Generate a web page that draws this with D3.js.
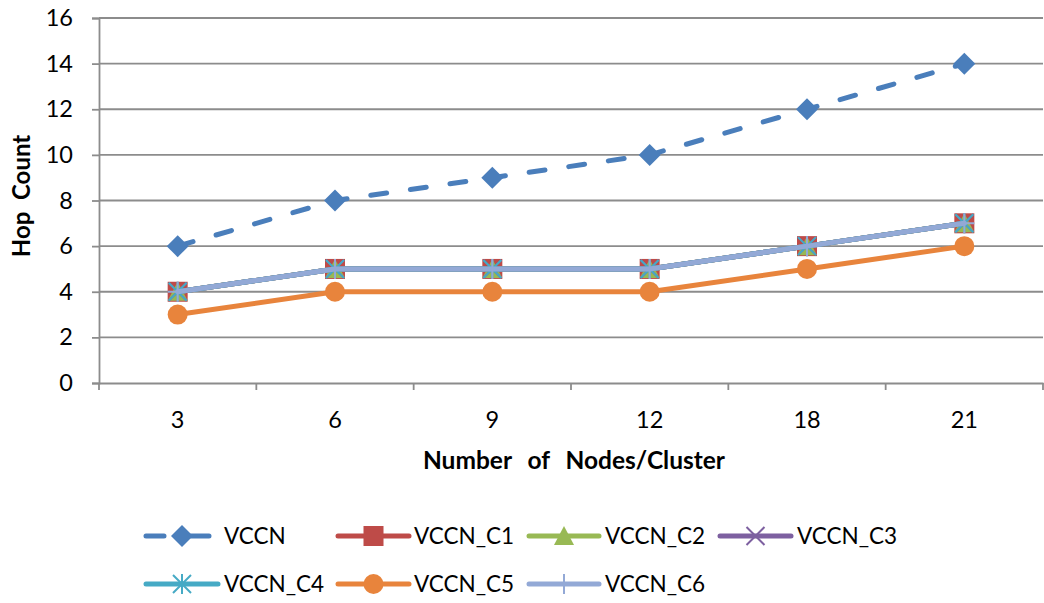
<!DOCTYPE html>
<html>
<head>
<meta charset="utf-8">
<script src="https://cdn.jsdelivr.net/npm/d3@7"></script>
<style>
  html, body { margin: 0; padding: 0; background: #fff; }
  svg { display: block; font-family: Lato, "Open Sans", "Liberation Sans", sans-serif; }
</style>
</head>
<body>
<svg id="chart" width="1044" height="603"></svg>
<script>
// Category labels (nodes per cluster)
const categories = ["3", "6", "9", "12", "18", "21"];

// Hop count per series
const seriesNames = ["VCCN", "VCCN_C1", "VCCN_C2", "VCCN_C3", "VCCN_C4", "VCCN_C5", "VCCN_C6"];
const vccn   = [6, 8, 9, 10, 12, 14];
const vccnC1 = [4, 5, 5, 5, 6, 7];
const vccnC2 = [4, 5, 5, 5, 6, 7];
const vccnC3 = [4, 5, 5, 5, 6, 7];
const vccnC4 = [4, 5, 5, 5, 6, 7];
const vccnC5 = [3, 4, 4, 4, 5, 6];
const vccnC6 = [4, 5, 5, 5, 6, 7];

const yTicks = [0, 2, 4, 6, 8, 10, 12, 14, 16];

const colors  = ["#4A7EBB", "#BE4B48", "#98B954", "#7D60A0", "#46AAC5", "#E8843C", "#93A9D6"];
const markers = ["diamond", "square", "triangle", "cross", "asterisk", "circle", "plus"];
const dashed  = [true, false, false, false, false, false, false];

const series = [vccn, vccnC1, vccnC2, vccnC3, vccnC4, vccnC5, vccnC6].map((values, i) => ({
  name: seriesNames[i], values, color: colors[i], marker: markers[i], dashed: dashed[i]
}));

const svg = d3.select("#chart");
const plot = { left: 99, right: 1043, top: 18, bottom: 383 };

const x = d3.scaleBand().domain(categories).range([plot.left, plot.right]);
const y = d3.scaleLinear().domain([0, 16]).range([plot.bottom, plot.top]);
const gridColor = "#8c8c8c";
const font = "Lato, 'Open Sans', sans-serif";

// Horizontal gridlines
svg.append("g")
  .selectAll("line")
  .data(yTicks.filter(d => d > 0))
  .join("line")
  .attr("x1", plot.left).attr("x2", plot.right)
  .attr("y1", d => y(d)).attr("y2", d => y(d))
  .attr("stroke", gridColor).attr("stroke-width", 1.8);

// Y axis
const yAxis = svg.append("g")
  .attr("transform", `translate(${plot.left},0)`)
  .call(d3.axisLeft(y).tickValues(yTicks).tickSize(7).tickPadding(19).tickFormat(d3.format("d")));
yAxis.select(".domain").attr("stroke", gridColor).attr("stroke-width", 1.8);
yAxis.selectAll(".tick line").attr("stroke", gridColor).attr("stroke-width", 1.8);
yAxis.selectAll(".tick text").attr("font-size", 23.5).attr("fill", "#000").attr("font-family", font);

// X axis with tick marks at the band boundaries
const xAxis = svg.append("g")
  .attr("transform", `translate(0,${plot.bottom})`)
  .call(d3.axisBottom(x).tickSize(0).tickPadding(28));
xAxis.select(".domain").attr("stroke", gridColor).attr("stroke-width", 1.8);
xAxis.selectAll(".tick text").attr("font-size", 23.5).attr("fill", "#000").attr("font-family", font);
const boundaries = categories.map(c => x(c)).concat([x(categories[categories.length - 1]) + x.bandwidth()]);
xAxis.selectAll("line.bound")
  .data(boundaries)
  .join("line")
  .attr("class", "bound")
  .attr("x1", d => d).attr("x2", d => d)
  .attr("y1", 0).attr("y2", 7)
  .attr("stroke", gridColor).attr("stroke-width", 1.8);

// Axis titles
svg.append("text")
  .attr("x", 574).attr("y", 469)
  .attr("text-anchor", "middle")
  .attr("font-size", 24.5).attr("font-weight", "bold")
  .style("white-space", "pre")
  .style("word-spacing", "2px")
  .text("Number  of  Nodes/Cluster");

svg.append("text")
  .attr("transform", "translate(30,196) rotate(-90)")
  .attr("text-anchor", "middle")
  .attr("font-size", 24).attr("font-weight", "bold")
  .style("white-space", "pre")
  .text("Hop  Count");

// Marker drawing
function drawMarker(g, type, color) {
  switch (type) {
    case "diamond":
      g.append("path").attr("d", "M0,-11L11,0L0,11L-11,0Z").attr("fill", color);
      break;
    case "square":
      g.append("rect").attr("x", -10).attr("y", -10).attr("width", 20).attr("height", 20).attr("fill", color);
      break;
    case "triangle":
      g.append("path").attr("d", "M0,-10L10,9L-10,9Z").attr("fill", color);
      break;
    case "cross":
      g.append("path").attr("d", "M-9,-9L9,9M9,-9L-9,9").attr("stroke", color).attr("stroke-width", 2).attr("fill", "none");
      break;
    case "asterisk":
      g.append("path").attr("d", "M-9,-9L9,9M9,-9L-9,9M0,-10L0,10").attr("stroke", color).attr("stroke-width", 2).attr("fill", "none");
      break;
    case "circle":
      g.append("circle").attr("r", 10).attr("fill", color);
      break;
    case "plus":
      g.append("path").attr("d", "M-10,0L10,0M0,-10L0,10").attr("stroke", color).attr("stroke-width", 2).attr("fill", "none");
      break;
  }
}

const cx = c => x(c) + x.bandwidth() / 2;
const line = d3.line().x((d, i) => cx(categories[i])).y(d => y(d));

// Series lines and markers, drawn in series order
series.forEach(s => {
  const g = svg.append("g");
  g.append("path")
    .datum(s.values)
    .attr("d", line)
    .attr("fill", "none")
    .attr("stroke", s.color)
    .attr("stroke-width", 5)
    .attr("stroke-linecap", "round")
    .attr("stroke-linejoin", "round")
    .attr("stroke-dasharray", s.dashed ? "16,24" : null);
  s.values.forEach((v, i) => {
    const m = g.append("g").attr("transform", `translate(${cx(categories[i])},${y(v)})`);
    drawMarker(m, s.marker, s.color);
  });
});

// Legend
const legendItems = [
  { row: 0, x0: 146, x1: 209, tx: 224 },
  { row: 0, x0: 338, x1: 409, tx: 414 },
  { row: 0, x0: 529, x1: 599, tx: 605 },
  { row: 0, x0: 720, x1: 791, tx: 797 },
  { row: 1, x0: 146, x1: 218, tx: 224 },
  { row: 1, x0: 338, x1: 409, tx: 414 },
  { row: 1, x0: 529, x1: 599, tx: 605 }
];
const rowY = [536, 584];
const legend = svg.append("g");
series.forEach((s, i) => {
  const it = legendItems[i];
  const ly = rowY[it.row];
  const g = legend.append("g");
  g.append("line")
    .attr("x1", it.x0).attr("x2", it.x1)
    .attr("y1", ly).attr("y2", ly)
    .attr("stroke", s.color).attr("stroke-width", 5)
    .attr("stroke-linecap", "round")
    .attr("stroke-dasharray", s.dashed ? "18,27" : null);
  const mx = s.dashed ? 182 : (it.x0 + it.x1) / 2;
  const m = g.append("g").attr("transform", `translate(${mx},${ly})`);
  drawMarker(m, s.marker, s.color);
  g.append("text")
    .attr("x", it.tx).attr("y", ly)
    .attr("dy", "0.36em")
    .attr("font-size", 22.5)
    .text(s.name);
});
</script>
</body>
</html>
